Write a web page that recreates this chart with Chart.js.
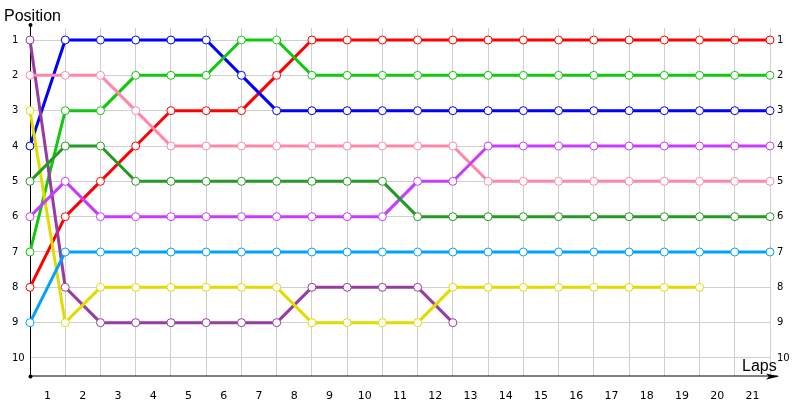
<!DOCTYPE html>
<html>
<head>
<meta charset="utf-8">
<script src="https://cdn.jsdelivr.net/npm/chart.js@4/dist/chart.umd.min.js"></script>
<style>
  html, body { margin: 0; padding: 0; background: #fff; }
  #wrap { width: 800px; height: 400px; }
</style>
</head>
<body>
<div id="wrap"><canvas id="lapChart" width="800" height="400"></canvas></div>
<script>
// laps 0..21, positions
const laps = [0, 1, 2, 3, 4, 5, 6, 7, 8, 9, 10, 11, 12, 13, 14, 15, 16, 17, 18, 19, 20, 21];
const lapLabels = ['1', '2', '3', '4', '5', '6', '7', '8', '9', '10', '11', '12', '13', '14', '15', '16', '17', '18', '19', '20', '21'];
const positionLabels = [1, 2, 3, 4, 5, 6, 7, 8, 9, 10];

const redPos = [8, 6, 5, 4, 3, 3, 3, 2, 1, 1, 1, 1, 1, 1, 1, 1, 1, 1, 1, 1, 1, 1];
const bluePos = [4, 1, 1, 1, 1, 1, 2, 3, 3, 3, 3, 3, 3, 3, 3, 3, 3, 3, 3, 3, 3, 3];
const greenPos = [7, 3, 3, 2, 2, 2, 1, 1, 2, 2, 2, 2, 2, 2, 2, 2, 2, 2, 2, 2, 2, 2];
const pinkPos = [2, 2, 2, 3, 4, 4, 4, 4, 4, 4, 4, 4, 4, 5, 5, 5, 5, 5, 5, 5, 5, 5];
const violetPos = [6, 5, 6, 6, 6, 6, 6, 6, 6, 6, 6, 5, 5, 4, 4, 4, 4, 4, 4, 4, 4, 4];
const darkGreenPos = [5, 4, 4, 5, 5, 5, 5, 5, 5, 5, 5, 6, 6, 6, 6, 6, 6, 6, 6, 6, 6, 6];
const skyPos = [9, 7, 7, 7, 7, 7, 7, 7, 7, 7, 7, 7, 7, 7, 7, 7, 7, 7, 7, 7, 7, 7];
const yellowPos = [3, 9, 8, 8, 8, 8, 8, 8, 9, 9, 9, 9, 8, 8, 8, 8, 8, 8, 8, 8];
const purplePos = [1, 8, 9, 9, 9, 9, 9, 9, 8, 8, 8, 8, 9];

const series = [
    { name: 'skyblue', color: '#00a2ff', data: skyPos },
    { name: 'darkgreen', color: '#239b23', data: darkGreenPos },
    { name: 'violet', color: '#c93cff', data: violetPos },
    { name: 'pink', color: '#ff88a8', data: pinkPos },
    { name: 'yellow', color: '#e0dc00', data: yellowPos },
    { name: 'purple', color: '#973ca0', data: purplePos },
    { name: 'green', color: '#10c810', data: greenPos },
    { name: 'blue', color: '#0000ff', data: bluePos },
    { name: 'red', color: '#ff0000', data: redPos }
];

// axis lines, arrow and the two titles
const axisDecor = {
    id: 'axisDecor',
    beforeDatasetsDraw(chart) {
        const c = chart.ctx;
        const x = chart.scales.x;
        const y = chart.scales.y;
        const x0 = x.getPixelForValue(0);
        const yb = y.bottom;
        c.save();
        c.strokeStyle = '#000';
        c.fillStyle = '#000';
        c.lineWidth = 1;
        c.beginPath();
        c.moveTo(x0 + 0.5, 24);
        c.lineTo(x0 + 0.5, yb);
        c.lineTo(778, yb);
        c.stroke();
        // arrow head
        c.beginPath();
        c.moveTo(779, yb + 0.5);
        c.lineTo(766, yb - 2.5);
        c.lineTo(769, yb + 0.5);
        c.lineTo(766, yb + 3.5);
        c.closePath();
        c.fill();
        // end dots
        c.beginPath();
        c.arc(x0 + 0.5, 25, 2, 0, Math.PI * 2);
        c.fill();
        c.beginPath();
        c.arc(x0 + 0.5, yb + 0.5, 2, 0, Math.PI * 2);
        c.fill();
        c.font = '16px "Liberation Sans"';
        c.textBaseline = 'alphabetic';
        c.textAlign = 'left';
        c.fillText('Position', 4, 21);
        c.fillText('Laps', 742, 371);
        c.restore();
    }
};

new Chart(document.getElementById('lapChart'), {
    type: 'line',
    data: {
        labels: laps,
        datasets: series.map(s => ({
            label: s.name,
            data: s.data.map((p, i) => ({ x: laps[i], y: p })),
            borderColor: s.color,
            backgroundColor: '#ffffff',
            borderWidth: 3,
            pointRadius: 4,
            pointBorderWidth: 1,
            pointBackgroundColor: '#ffffff',
            pointBorderColor: s.color,
            tension: 0,
            clip: false
        }))
    },
    options: {
        responsive: false,
        animation: false,
        layout: { padding: { left: 12, top: 28, right: 0, bottom: 0 } },
        plugins: {
            legend: { display: false },
            tooltip: { enabled: false }
        },
        scales: {
            x: {
                type: 'linear',
                position: 'bottom',
                min: 0,
                max: 21,
                ticks: { display: false, stepSize: 1 },
                grid: { color: '#d0d0d0', drawTicks: false },
                border: { display: false }
            },
            x2: {
                type: 'linear',
                position: 'bottom',
                min: -0.5,
                max: 20.5,
                afterBuildTicks: (axis) => {
                    axis.ticks = lapLabels.map((t, i) => ({ value: i }));
                },
                ticks: {
                    font: { family: 'DejaVu Sans', size: 11 },
                    color: '#000',
                    padding: 6,
                    maxRotation: 0,
                    autoSkip: false,
                    callback: (v) => lapLabels[v]
                },
                grid: { display: false },
                border: { display: false },
                afterFit: (axis) => { axis.height = 24; }
            },
            y: {
                type: 'linear',
                position: 'left',
                reverse: true,
                min: 0.66,
                max: 10.51,
                afterBuildTicks: (axis) => {
                    axis.ticks = positionLabels.map(v => ({ value: v }));
                },
                ticks: {
                    font: { family: 'DejaVu Sans', size: 10 },
                    color: '#000',
                    crossAlign: 'far',
                    callback: (v) => String(v)
                },
                grid: { color: '#d0d0d0', drawTicks: false },
                border: { display: false },
                afterFit: (axis) => { axis.width = 18; }
            },
            y2: {
                type: 'linear',
                position: 'right',
                reverse: true,
                min: 0.66,
                max: 10.51,
                afterBuildTicks: (axis) => {
                    axis.ticks = positionLabels.map(v => ({ value: v }));
                },
                ticks: {
                    font: { family: 'DejaVu Sans', size: 10 },
                    color: '#000',
                    padding: 7,
                    callback: (v) => String(v)
                },
                grid: { display: false, drawTicks: false },
                border: { display: false },
                afterFit: (axis) => { axis.width = 30; }
            }
        }
    },
    plugins: [axisDecor]
});
</script>
</body>
</html>
